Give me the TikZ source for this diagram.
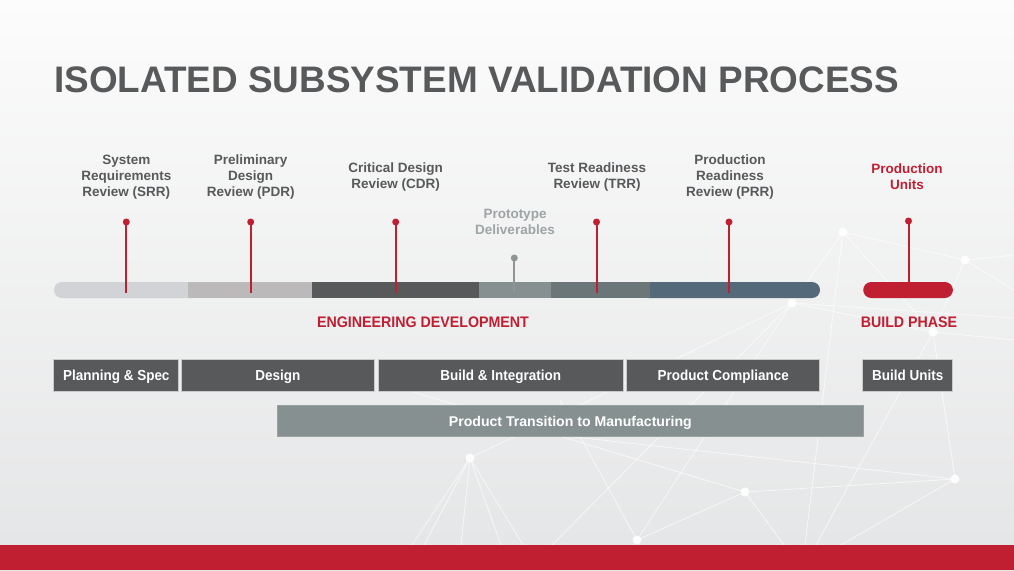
\documentclass[tikz,border=0pt]{standalone}
\usepackage{fontspec}
\setmainfont{Liberation Sans}
\newfontfamily\condfont[FakeStretch=0.93]{Liberation Sans}
\definecolor{dgray}{HTML}{58595B}
\definecolor{brand}{HTML}{C01F32}
\definecolor{segA}{HTML}{D1D3D6}
\definecolor{segB}{HTML}{BBB9B9}
\definecolor{segC}{HTML}{58595B}
\definecolor{segD}{HTML}{879091}
\definecolor{segE}{HTML}{6B7679}
\definecolor{segF}{HTML}{546A7A}
\definecolor{protog}{HTML}{9FA4A6}
\definecolor{boxedge}{HTML}{C9CACB}
\definecolor{bgtop}{HTML}{FCFCFC}
\definecolor{bgbot}{HTML}{E4E5E6}
\tikzset{
  net/.style={white, line width=0.8pt, opacity=0.65},
  netdot/.style={circle, fill=white, inner sep=0pt, minimum size=9pt, opacity=0.9},
  pinline/.style={brand, line width=2pt},
  pindot/.style={circle, fill=brand, inner sep=0pt, minimum size=7pt},
  protoline/.style={protog!90!black, line width=2pt},
  protodot/.style={circle, fill=protog!90!black, inner sep=0pt, minimum size=7pt},
  revlabel/.style={align=center, text=dgray, font=\fontsize{13.5}{16}\selectfont\bfseries},
  phase/.style={text=brand, font=\condfont\fontsize{15.3}{18}\selectfont\bfseries},
  stagebox/.style={fill=dgray, draw=boxedge, line width=1pt, minimum height=32pt, inner sep=0pt, text height=11pt, text depth=0pt, text=white, font=\condfont\fontsize{14.5}{17}\selectfont\bfseries},
  transbox/.style={fill=segD, draw=segD!85!white, line width=0.6pt, minimum height=31.7pt, inner sep=0pt, text height=11pt, text depth=0pt, text=white, font=\fontsize{14.1}{17}\selectfont\bfseries},
  seg/.style={inner sep=0pt, minimum height=16pt, anchor=west}
}
\begin{document}
\begin{tikzpicture}[x=1pt,y=-1pt]
\useasboundingbox (0,0) rectangle (1014,570);
\shade[top color=bgtop, bottom color=bgbot] (0,0) rectangle (1014,570);

% background network
\coordinate (nA) at (843,232);
\coordinate (nB) at (965,260);
\coordinate (nC) at (792,303);
\coordinate (nD) at (933,332);
\coordinate (nE) at (470,458);
\coordinate (nF) at (745,492);
\coordinate (nG) at (955,479);
\coordinate (nH) at (637,540);
\coordinate (r1) at (1014,255);
\coordinate (r2) at (1014,290);
\coordinate (r3) at (1014,318);
\coordinate (r5) at (1014,340);
\coordinate (u1) at (400,388);
\coordinate (u2) at (420,420);
\coordinate (u3) at (560,400);
\foreach \x in {412,424,461,501,523} {\draw[net] (nE) -- (\x,545);}
\draw[net] (nA) -- (nB);
\draw[net] (nA) -- (nC);
\draw[net] (nA) -- (nD);
\draw[net] (nA) -- (805,545);
\draw[net] (nB) -- (r1);
\draw[net] (nB) -- (nD);
\draw[net] (nB) -- (r2);
\draw[net] (nC) -- (r3);
\draw[net] (nC) -- (nD);
\draw[net] (nC) -- (nH);
\draw[net] (nC) -- (552,545);
\draw[net] (nD) -- (nG);
\draw[net] (nD) -- (816,545);
\draw[net] (nD) -- (r5);
\draw[net] (nE) -- (nC);
\draw[net] (nF) -- (u1);
\draw[net] (nG) -- (u2);
\draw[net] (nF) -- (nG);
\draw[net] (nF) -- (nH);
\draw[net] (nF) -- (784,545);
\draw[net] (nG) -- (841,545);
\draw[net] (nH) -- (u3);
\foreach \n in {nA,nB,nC,nD,nE,nF,nG,nH} {\node[netdot] at (\n) {};}

% title
\node[anchor=base west, inner sep=0pt, text=dgray, font=\fontsize{36.9}{40}\selectfont\bfseries] (title) at (54,92.5) {ISOLATED SUBSYSTEM VALIDATION PROCESS};

% timeline bar
\fill[segA, rounded corners=8pt] (54,282) rectangle (200,298);
\fill[segF, rounded corners=8pt] (640,282) rectangle (820,298);
\node[seg, fill=segA, minimum width=118pt] (s1) at (70,290) {};
\node[seg, fill=segB, minimum width=123.7pt] (s2) at (188,290) {};
\node[seg, fill=segC, minimum width=167.3pt] (s3) at (311.7,290) {};
\node[seg, fill=segD, minimum width=71.5pt] (s4) at (479,290) {};
\node[seg, fill=segE, minimum width=98.8pt] (s5) at (550.5,290) {};
\node[seg, fill=segF, minimum width=150pt] (s6) at (649.3,290) {};
\node[seg, fill=brand, rounded corners=8pt, minimum width=89.7pt] (s7) at (863,290) {};

% pins
\coordinate (srrB) at (126.3,293);
\coordinate (pdrB) at (250.7,293);
\coordinate (cdrB) at (395.7,293);
\coordinate (proB) at (514.3,293);
\coordinate (trrB) at (596.5,293);
\coordinate (prrB) at (729,293);
\coordinate (puB) at (908.5,284);
\node[pindot] (srrT) at (126.3,222) {};
\node[pindot] (pdrT) at (250.7,222) {};
\node[pindot] (cdrT) at (395.7,222) {};
\node[protodot] (proT) at (514.3,258) {};
\node[pindot] (trrT) at (596.5,222) {};
\node[pindot] (prrT) at (729,222) {};
\node[pindot] (puT) at (908.5,221) {};
\draw[pinline] (srrT.center) -- (srrB);
\draw[pinline] (pdrT.center) -- (pdrB);
\draw[pinline] (cdrT.center) -- (cdrB);
\draw[protoline] (proT.center) -- (proB);
\draw[pinline] (trrT.center) -- (trrB);
\draw[pinline] (prrT.center) -- (prrB);
\draw[pinline] (puT.center) -- (puB);

% milestone labels
\node[revlabel] (srr) at (126.3,177) {System\\Requirements\\Review (SRR)};
\node[revlabel] (pdr) at (250.7,177) {Preliminary\\Design\\Review (PDR)};
\node[revlabel] (cdr) at (395.7,177) {Critical Design\\Review (CDR)};
\node[revlabel, text=protog] (pro) at (515,222) {Prototype\\Deliverables};
\node[revlabel] (trr) at (597,177) {Test Readiness\\Review (TRR)};
\node[revlabel] (prr) at (730,177) {Production\\Readiness\\Review (PRR)};
\node[revlabel, text=brand] (pu) at (907,177) {Production\\Units};

% phase labels
\node[phase] (eng) at (423,322.5) {ENGINEERING DEVELOPMENT};
\node[phase] (bld) at (909,322.5) {BUILD PHASE};

% stage boxes
\node[stagebox, minimum width=124.7pt] (plan) at (116.3,375) {Planning \& Spec};
\node[stagebox, minimum width=193pt] (design) at (277.8,375) {Design};
\node[stagebox, minimum width=244.7pt] (build) at (500.7,375) {Build \& Integration};
\node[stagebox, minimum width=193.3pt] (comp) at (723.3,375) {Product Compliance};
\node[stagebox, minimum width=89.7pt] (units) at (907.8,375) {Build Units};
\node[transbox, minimum width=585.3pt] (trans) at (570.3,420.8) {Product Transition to Manufacturing};

% bottom band
\fill[brand] (0,545) rectangle (1014,570);
\end{tikzpicture}
\end{document}
